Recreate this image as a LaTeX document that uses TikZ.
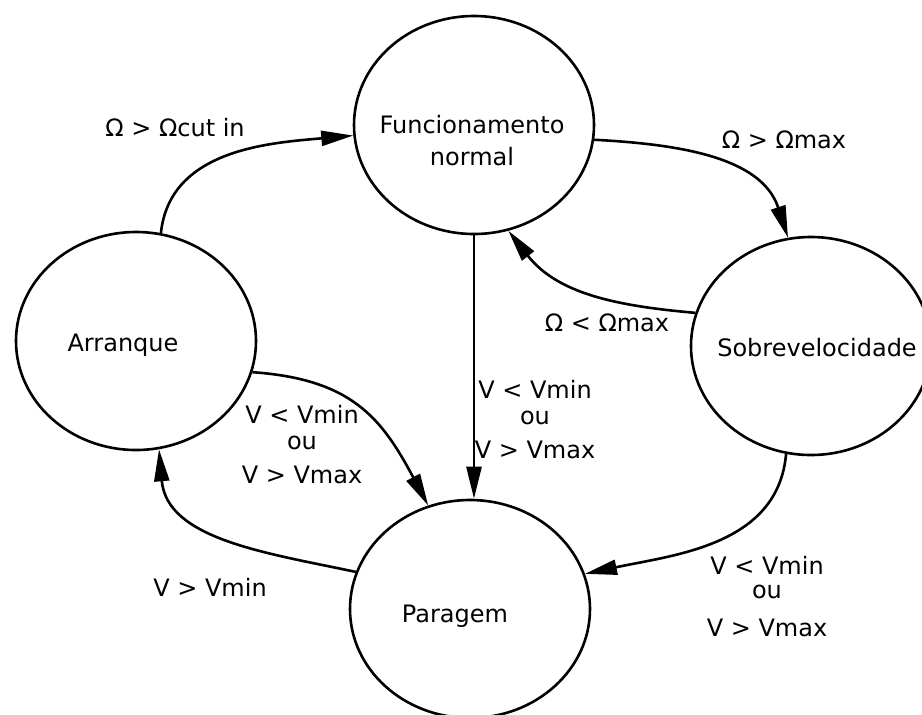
\documentclass[tikz,border=0pt]{standalone}
\usepackage{fontspec}
\setmainfont{DejaVu Sans}
\usepackage{tikz}
\usetikzlibrary{arrows.meta,shapes.geometric}

\begin{document}
\begin{tikzpicture}[
			x=0.5pt,y=-0.5pt,
			state/.style={ellipse,draw=black,line width=1.3pt,inner sep=0pt,
				minimum width=120pt,minimum height=109pt},
			flow/.style={-{Triangle[length=16pt,width=7.5pt]},draw=black,line width=1.3pt},
			txt/.style={align=center,inner sep=0pt,font=\fontsize{12pt}{12pt}\selectfont},
			cond/.style={txt}]
			\useasboundingbox (0,0) rectangle (922,714);
			% estados
			\node[state] (fun) at (474,125) {};
			\node[state] (arr) at (136,341) {};
			\node[state] (sob) at (811,346) {};
			\node[state] (par) at (470,609) {};
			\node[txt] (funtxt) at (472,141) {Funcionamento\\[4pt]normal};
			\node[txt] (arrtxt) at (123,345) {Arranque};
			\node[txt] (sobtxt) at (817,348) {Sobrevelocidade};
			\node[txt] (partxt) at (455,616) {Paragem};
			% transicoes
			\draw[flow] (arr.77) to[out=84,in=185] (fun.185);
			\draw[flow] (fun.-7) to[out=-3,in=108] (sob.102);
			\draw[flow] (sob.164) to[out=175,in=-52] (fun.-72);
			\draw[flow] (fun.south) -- (fun.south |- par.north);
			\draw[flow] (arr.-15) to[out=-4,in=118,looseness=1.15] (par.112);
			\draw[flow] (par.162) to[out=168,in=-85] (arr.-78);
			\draw[flow] (sob.-103) to[out=-95,in=12] (par.17);
			% condicoes
			\node[cond] (cutin) at (175,128) {Ω > Ωcut in};
			\node[cond] (wmax) at (784,140) {Ω > Ωmax};
			\node[cond] (wback) at (607,323) {Ω < Ωmax};
			\node[cond] (vfun) at (535,420) {V < Vmin\\[1pt]ou\\[5pt]V > Vmax};
			\node[cond] (varr) at (302,445) {V < Vmin\\[1pt]ou\\[5pt]V > Vmax};
			\node[cond] (vmin) at (210,587) {V > Vmin};
			\node[cond] (vsob) at (767,597) {V < Vmin\\[0pt]ou\\[7pt]V > Vmax};
		\end{tikzpicture}
\end{document}
